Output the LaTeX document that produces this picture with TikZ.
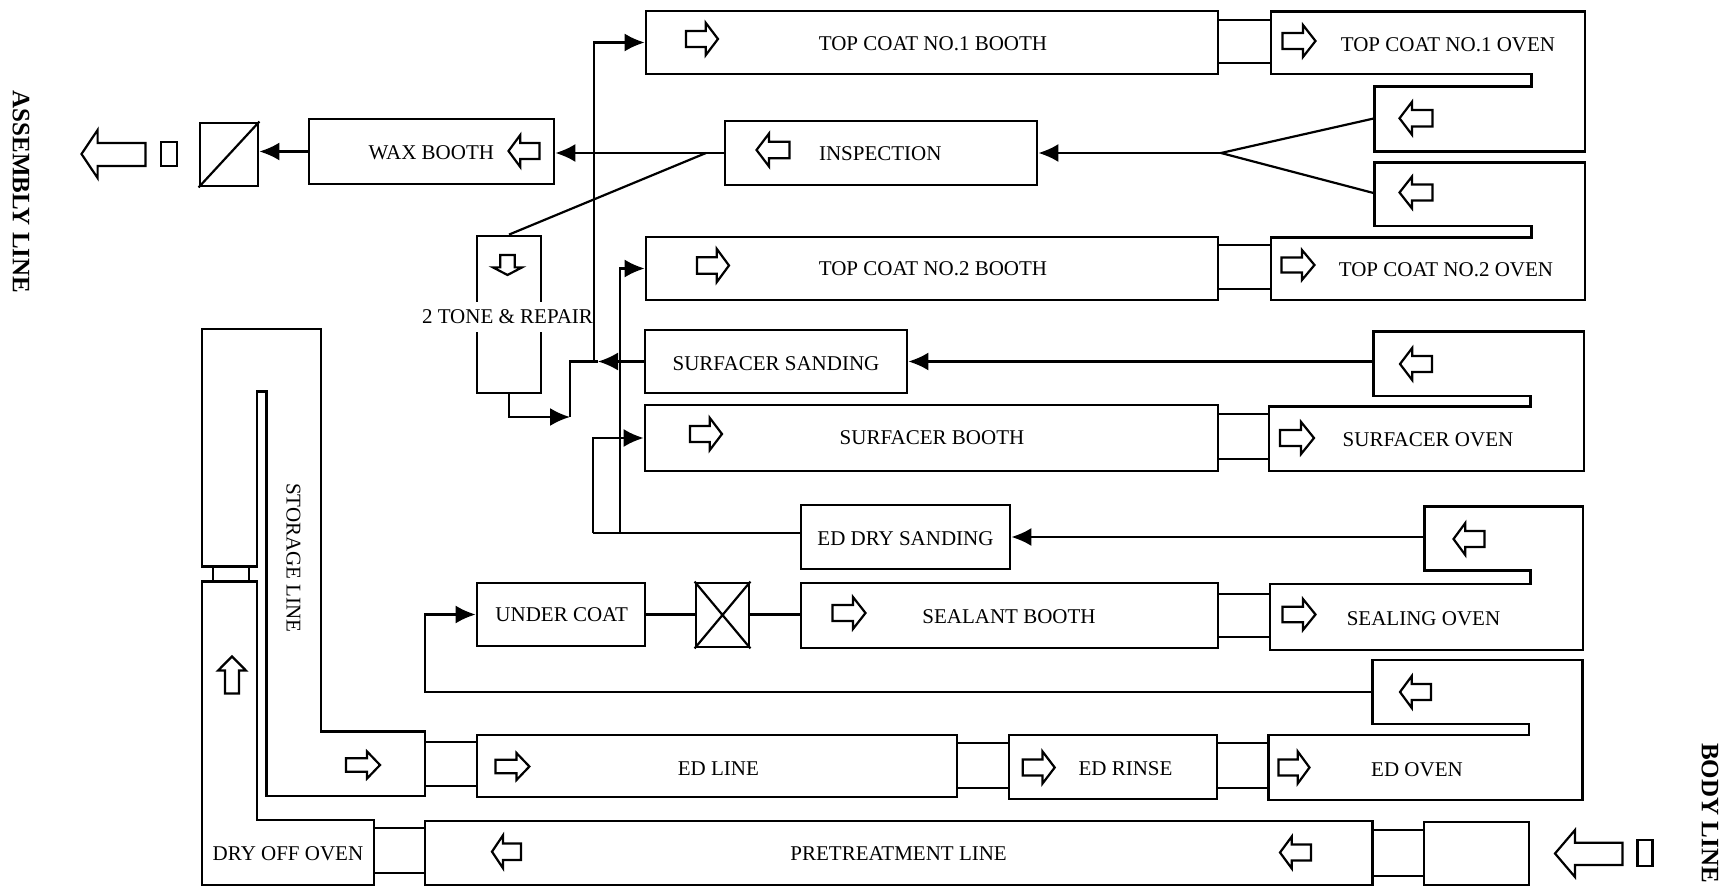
\documentclass[tikz,border=0pt]{standalone}
\usepackage{fontspec}
\setmainfont{Liberation Serif}
\usetikzlibrary{arrows.meta,fit}
\newcommand{\iconarrow}[5]{\draw[icon,shift={(#1,#2)},rotate=#3]
 ({-(#4)/2},{-(#5)/4}) -- ({0.12*(#4)},{-(#5)/4}) -- ({0.12*(#4)},{-(#5)/2}) -- ({(#4)/2},0) -- ({0.12*(#4)},{(#5)/2}) -- ({0.12*(#4)},{(#5)/4}) -- ({-(#4)/2},{(#5)/4}) -- cycle;}
\begin{document}
\begin{tikzpicture}[x=0.5pt,y=-0.5pt,
  box/.style={draw, line width=1.4pt, inner sep=0pt},
  wall/.style={line width=1.4pt, line join=miter},
  ln/.style={line width=1.1pt},
  arr/.style={line width=1.1pt, -{Latex[length=10pt,width=9pt]}},
  icon/.style={line width=1.1pt, line join=miter},
  txt/.style={font=\fontsize{10.5}{12}\selectfont, inner sep=0pt},
  lbl/.style={font=\bfseries\fontsize{12.5}{14}\selectfont, inner sep=0pt}]
\useasboundingbox (0,0) rectangle (1734,887);
% ---- boxes
\node[box, fit={(646,11) (1218,74)}] (tc1b) {};
\node[box, fit={(1218,20) (1271,63)}] (tc1c) {};
\draw[wall] (1271,11.7) -- (1585,11.7) -- (1585,151.7) -- (1374.6,151.7) -- (1374.6,86.7) -- (1531.7,86.7) -- (1531.7,74) -- (1271,74) -- cycle;
\node[box, fit={(725,121) (1037,185)}] (ins) {};
\node[box, fit={(309,119) (554,184)}] (wax) {};
\node[box, fit={(200,123) (258,186)}] (sqd) {};
\draw[ln] (sqd.south west) -- (sqd.north east);
\node[box, fit={(161,142) (177,166)}] (endb) {};
\node[box, fit={(646,237) (1218,300)}] (tc2b) {};
\node[box, fit={(1218,245) (1271,289)}] (tc2c) {};
\draw[wall] (1374.6,162.7) -- (1585,162.7) -- (1585,300) -- (1271,300) -- (1271,237.3) -- (1531.7,237.3) -- (1531.7,226) -- (1374.6,226) -- cycle;
\node[box, fit={(477,236) (541,393)}] (tone) {};
\node[box, fit={(645,330) (907,393)}] (ss) {};
\draw[wall] (1373.5,331.7) -- (1584,331.7) -- (1584,471) -- (1269,471) -- (1269,406.7) -- (1530.6,406.7) -- (1530.6,396) -- (1373.5,396) -- cycle;
\node[box, fit={(645,405) (1218,471)}] (sb) {};
\node[box, fit={(1218,414) (1269,459)}] (sbc) {};
\node[box, fit={(801,505) (1010,569)}] (eds) {};
\draw[wall] (1424.8,506.7) -- (1583,506.7) -- (1583,650) -- (1270,650) -- (1270,584) -- (1530.6,584) -- (1530.6,570.7) -- (1424.8,570.7) -- cycle;
\node[box, fit={(477,583) (645,646)}] (uc) {};
\node[box, fit={(696,583) (749,647)}] (xb) {};
\draw[ln] (xb.south west) -- (xb.north east) (xb.north west) -- (xb.south east);
\node[box, fit={(801,583) (1218,648)}] (seal) {};
\node[box, fit={(1218,594) (1270,637)}] (sealc) {};
\draw[wall] (1372.5,660) -- (1582.5,660) -- (1582.5,800) -- (1268.5,800) -- (1268.5,735) -- (1529,735) -- (1529,724) -- (1372.5,724) -- cycle;
\node[box, fit={(477,735) (957,797)}] (edl) {};
\node[box, fit={(957,743) (1009,788)}] (edlc) {};
\node[box, fit={(1009,735) (1217,799)}] (edr) {};
\node[box, fit={(1217,743) (1268.5,788)}] (edrc) {};
\node[box, fit={(425,821) (1372.5,885)}] (pt) {};
\node[box, fit={(1372.5,830) (1424,876)}] (ptc) {};
\node[box, fit={(1424,822) (1529,885)}] (entry) {};
\node[box, fit={(1637.5,840) (1652.5,866)}] (begb) {};
% storage line and dry off oven
\draw[wall] (202,329) -- (321,329) -- (321,731.7) -- (425,731.7) -- (425,796) -- (266.7,796) -- (266.7,391.7) -- (257,391.7) -- (257,566.7) -- (202,566.7) -- cycle;
\draw[wall] (202,581.7) -- (257,581.7) -- (257,820) -- (374,820) -- (374,885) -- (202,885) -- cycle;
\draw[ln] (213,567) -- (213,581.7) (249,567) -- (249,581.7);
\node[box, fit={(425,742) (477,786)}] (stc) {};
\node[box, fit={(374,828) (425,873)}] (dpc) {};
% ---- texts
\node[txt] (t1) at (933,43.3) {TOP COAT NO.1 BOOTH};
\node[txt] (t2) at (1448,45) {TOP COAT NO.1 OVEN};
\node[txt] (t3) at (880.3,154) {INSPECTION};
\node[txt] (t4) at (431.3,153) {WAX BOOTH};
\node[txt] (t5) at (933,269) {TOP COAT NO.2 BOOTH};
\node[txt] (t6) at (1446,270) {TOP COAT NO.2 OVEN};
\node[txt, fill=white, inner ysep=4pt] (t7) at (507.5,316.7) {2 TONE \& REPAIR};
\node[txt] (t8) at (776,363.3) {SURFACER SANDING};
\node[txt] (t9) at (932,438) {SURFACER BOOTH};
\node[txt] (t10) at (1428,440) {SURFACER OVEN};
\node[txt] (t11) at (905.5,538.3) {ED DRY SANDING};
\node[txt] (t12) at (561.7,615) {UNDER COAT};
\node[txt] (t13) at (1009,616.7) {SEALANT BOOTH};
\node[txt] (t14) at (1423.5,618.3) {SEALING OVEN};
\node[txt] (t15) at (718.3,768.3) {ED LINE};
\node[txt] (t16) at (1125.5,768.3) {ED RINSE};
\node[txt] (t17) at (1417,769.3) {ED OVEN};
\node[txt] (t18) at (898.6,853.8) {PRETREATMENT LINE};
\node[txt] (t19) at (288,853.3) {DRY OFF OVEN};
\node[txt, rotate=-90] (t20) at (293.5,558) {STORAGE LINE};
\node[lbl, rotate=-90] (t21) at (21,192) {ASSEMBLY LINE};
\node[lbl, rotate=-90] (t22) at (1710,813) {BODY LINE};
% ---- connectors
\coordinate (dj) at (706,153);
\draw[arr] (ins.west) -- (wax.east |- ins.west);
\draw[arr] (wax.west) -- (sqd.east |- wax.west);
\draw[ln] (dj) -- (tone.north);
\coordinate (fk) at (1221,153);
\coordinate (a1) at (1374.6,118.3);
\coordinate (a2) at (1374.6,193.3);
\draw[arr] (fk) -- (ins.east |- fk);
\draw[ln] (a1) -- (fk) -- (a2);
\coordinate (v1t) at (594,42.5);
\coordinate (v1b) at (594,361.5);
\draw[arr] (v1b) -- (v1t) -- (tc1b.west);
\coordinate (j1) at (598,361.5);
\coordinate (j2) at (570,361.5);
\coordinate (j3) at (570,417);
\draw[arr] (ss.west) -- (j1);
\draw[ln] (j1) -- (j2) -- (j3);
\draw[arr] (tone.south) -- (tone.south |- j3) -- (j3);
\coordinate (v2b) at (620,533);
\draw[arr] (v2b) -- (v2b |- tc2b.west) -- (tc2b.west);
\coordinate (v3b) at (593,533);
\draw[arr] (v3b) -- (v3b |- sb.west) -- (sb.west);
\draw[ln] (v3b) -- (v3b -| eds.west);
\coordinate (soarm) at (1373.5,361.5);
\draw[arr] (soarm) -- (ss.east |- soarm);
\coordinate (sgarm) at (1424.8,537);
\draw[arr] (sgarm) -- (eds.east |- sgarm);
\coordinate (edarm) at (1372.5,692);
\coordinate (ucl) at (425,692);
\draw[arr] (edarm) -- (ucl) -- (ucl |- uc.west) -- (uc.west);
\draw[ln] (uc.east) -- (xb.west |- uc.east);
\draw[ln] (xb.east |- uc.east) -- (seal.west |- uc.east);
% ---- big arrows
\draw[icon] (81.5,154) -- (97.6,130) -- (97.6,143) -- (145.4,143) -- (145.4,166) -- (97.6,166) -- (97.6,178) -- cycle;
\draw[icon] (1555,853.5) -- (1575,830) -- (1575,842.7) -- (1622.5,842.7) -- (1622.5,865) -- (1575,865) -- (1575,877) -- cycle;
% ---- direction icons
\iconarrow{702}{39}{0}{32}{32}
\iconarrow{1299}{41}{0}{33}{32}
\iconarrow{1416}{118.3}{180}{33}{33}
\iconarrow{1416}{192.5}{180}{33}{32}
\iconarrow{713}{265.5}{0}{32}{33}
\iconarrow{1298}{265}{0}{33}{30}
\iconarrow{524}{151}{180}{31}{32}
\iconarrow{773}{150}{180}{33}{33}
\iconarrow{507.5}{265}{-90}{20}{29}
\iconarrow{1416}{364}{180}{32}{32}
\iconarrow{706}{434}{0}{32}{32}
\iconarrow{1297}{438}{0}{34}{32}
\iconarrow{1469}{539}{180}{31}{32}
\iconarrow{849}{613}{0}{33}{32}
\iconarrow{1299}{614.5}{0}{33}{31}
\iconarrow{1415.5}{692}{180}{31}{32}
\iconarrow{363}{765}{0}{34}{27}
\iconarrow{512.4}{766.5}{0}{34}{27}
\iconarrow{1038.7}{767.5}{0}{32}{32}
\iconarrow{1294}{767.5}{0}{31}{32}
\iconarrow{506.5}{851.7}{180}{29}{33}
\iconarrow{1295.5}{852.5}{180}{31}{32}
\iconarrow{232}{675}{90}{37}{28}
\end{tikzpicture}
\end{document}
